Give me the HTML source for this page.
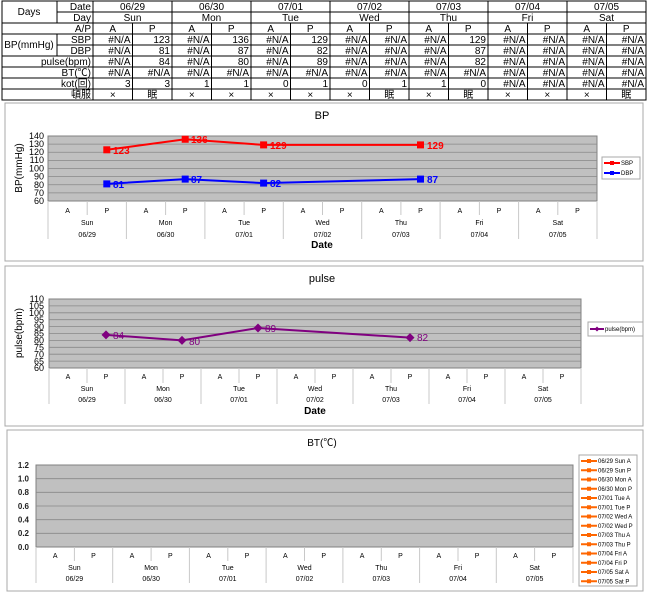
<!DOCTYPE html>
<html><head><meta charset="utf-8"><style>body{margin:0;background:#fff}svg{display:block}text{font-family:"Liberation Sans","Noto Sans CJK JP",sans-serif}</style></head><body>
<svg width="650" height="594" viewBox="0 0 650 594" xmlns="http://www.w3.org/2000/svg">
<!-- TABLE -->
<g stroke="#000" stroke-width="1" fill="none">
<rect x="2" y="1" width="644" height="99"/>
<line x1="57" y1="12" x2="646" y2="12"/>
<line x1="2" y1="23" x2="646" y2="23"/>
<line x1="2" y1="34" x2="646" y2="34"/>
<line x1="57" y1="45" x2="646" y2="45"/>
<line x1="2" y1="56" x2="646" y2="56"/>
<line x1="2" y1="67" x2="646" y2="67"/>
<line x1="2" y1="78" x2="646" y2="78"/>
<line x1="2" y1="89" x2="646" y2="89"/>
<line x1="57" y1="1" x2="57" y2="23"/>
<line x1="57" y1="34" x2="57" y2="56"/>
<line x1="93" y1="1" x2="93" y2="100"/>
<line x1="172" y1="1" x2="172" y2="100"/><line x1="251" y1="1" x2="251" y2="100"/><line x1="330" y1="1" x2="330" y2="100"/><line x1="409" y1="1" x2="409" y2="100"/><line x1="488" y1="1" x2="488" y2="100"/><line x1="567" y1="1" x2="567" y2="100"/>
<line x1="132.5" y1="23" x2="132.5" y2="100"/><line x1="211.5" y1="23" x2="211.5" y2="100"/><line x1="290.5" y1="23" x2="290.5" y2="100"/><line x1="369.5" y1="23" x2="369.5" y2="100"/><line x1="448.5" y1="23" x2="448.5" y2="100"/><line x1="527.5" y1="23" x2="527.5" y2="100"/><line x1="606.5" y1="23" x2="606.5" y2="100"/>
</g>
<g font-size="10" fill="#000">
<text x="29" y="15" text-anchor="middle">Days</text>
<text x="29" y="48" text-anchor="middle">BP(mmHg)</text>
<g text-anchor="end">
<text x="91" y="10">Date</text><text x="91" y="21">Day</text><text x="91" y="32">A/P</text><text x="91" y="43">SBP</text><text x="91" y="54">DBP</text><text x="91" y="65">pulse(bpm)</text><text x="91" y="76">BT(℃)</text><text x="91" y="87">kot(回)</text><text x="91" y="98">頓服</text>
</g>
<g text-anchor="middle">
<text x="132.5" y="10">06/29</text><text x="211.5" y="10">06/30</text><text x="290.5" y="10">07/01</text><text x="369.5" y="10">07/02</text><text x="448.5" y="10">07/03</text><text x="527.5" y="10">07/04</text><text x="606.5" y="10">07/05</text>
<text x="132.5" y="21">Sun</text><text x="211.5" y="21">Mon</text><text x="290.5" y="21">Tue</text><text x="369.5" y="21">Wed</text><text x="448.5" y="21">Thu</text><text x="527.5" y="21">Fri</text><text x="606.5" y="21">Sat</text>
<text x="112.75" y="32">A</text><text x="152.25" y="32">P</text><text x="191.75" y="32">A</text><text x="231.25" y="32">P</text><text x="270.75" y="32">A</text><text x="310.25" y="32">P</text><text x="349.75" y="32">A</text><text x="389.25" y="32">P</text><text x="428.75" y="32">A</text><text x="468.25" y="32">P</text><text x="507.75" y="32">A</text><text x="547.25" y="32">P</text><text x="586.75" y="32">A</text><text x="626.25" y="32">P</text>
<text x="112.75" y="98">×</text><text x="152.25" y="98">眠</text><text x="191.75" y="98">×</text><text x="231.25" y="98">×</text><text x="270.75" y="98">×</text><text x="310.25" y="98">×</text><text x="349.75" y="98">×</text><text x="389.25" y="98">眠</text><text x="428.75" y="98">×</text><text x="468.25" y="98">眠</text><text x="507.75" y="98">×</text><text x="547.25" y="98">×</text><text x="586.75" y="98">×</text><text x="626.25" y="98">眠</text>
</g>
<g text-anchor="end">
<text x="130.5" y="43">#N/A</text><text x="170" y="43">123</text><text x="209.5" y="43">#N/A</text><text x="249" y="43">136</text><text x="288.5" y="43">#N/A</text><text x="328" y="43">129</text><text x="367.5" y="43">#N/A</text><text x="407" y="43">#N/A</text><text x="446.5" y="43">#N/A</text><text x="486" y="43">129</text><text x="525.5" y="43">#N/A</text><text x="565" y="43">#N/A</text><text x="604.5" y="43">#N/A</text><text x="644" y="43">#N/A</text>
<text x="130.5" y="54">#N/A</text><text x="170" y="54">81</text><text x="209.5" y="54">#N/A</text><text x="249" y="54">87</text><text x="288.5" y="54">#N/A</text><text x="328" y="54">82</text><text x="367.5" y="54">#N/A</text><text x="407" y="54">#N/A</text><text x="446.5" y="54">#N/A</text><text x="486" y="54">87</text><text x="525.5" y="54">#N/A</text><text x="565" y="54">#N/A</text><text x="604.5" y="54">#N/A</text><text x="644" y="54">#N/A</text>
<text x="130.5" y="65">#N/A</text><text x="170" y="65">84</text><text x="209.5" y="65">#N/A</text><text x="249" y="65">80</text><text x="288.5" y="65">#N/A</text><text x="328" y="65">89</text><text x="367.5" y="65">#N/A</text><text x="407" y="65">#N/A</text><text x="446.5" y="65">#N/A</text><text x="486" y="65">82</text><text x="525.5" y="65">#N/A</text><text x="565" y="65">#N/A</text><text x="604.5" y="65">#N/A</text><text x="644" y="65">#N/A</text>
<text x="130.5" y="76">#N/A</text><text x="170" y="76">#N/A</text><text x="209.5" y="76">#N/A</text><text x="249" y="76">#N/A</text><text x="288.5" y="76">#N/A</text><text x="328" y="76">#N/A</text><text x="367.5" y="76">#N/A</text><text x="407" y="76">#N/A</text><text x="446.5" y="76">#N/A</text><text x="486" y="76">#N/A</text><text x="525.5" y="76">#N/A</text><text x="565" y="76">#N/A</text><text x="604.5" y="76">#N/A</text><text x="644" y="76">#N/A</text>
<text x="130.5" y="87">3</text><text x="170" y="87">3</text><text x="209.5" y="87">1</text><text x="249" y="87">1</text><text x="288.5" y="87">0</text><text x="328" y="87">1</text><text x="367.5" y="87">0</text><text x="407" y="87">1</text><text x="446.5" y="87">1</text><text x="486" y="87">0</text><text x="525.5" y="87">#N/A</text><text x="565" y="87">#N/A</text><text x="604.5" y="87">#N/A</text><text x="644" y="87">#N/A</text>
</g>
</g>

<!-- BP CHART -->
<rect x="5" y="103" width="638" height="158" fill="#fff" stroke="#a8a8a8"/>
<text x="322" y="119" font-size="11" text-anchor="middle">BP</text>
<rect x="48" y="136" width="549" height="65" fill="#c0c0c0" stroke="#808080"/>
<g stroke="#888" stroke-width="0.8">
<line x1="48" y1="144.1" x2="597" y2="144.1"/><line x1="48" y1="152.25" x2="597" y2="152.25"/><line x1="48" y1="160.4" x2="597" y2="160.4"/><line x1="48" y1="168.5" x2="597" y2="168.5"/><line x1="48" y1="176.6" x2="597" y2="176.6"/><line x1="48" y1="184.75" x2="597" y2="184.75"/><line x1="48" y1="192.9" x2="597" y2="192.9"/>
</g>
<g font-size="9" text-anchor="end">
<text x="44" y="139">140</text><text x="44" y="147">130</text><text x="44" y="155">120</text><text x="44" y="163">110</text><text x="44" y="171.5">100</text><text x="44" y="179.5">90</text><text x="44" y="188">80</text><text x="44" y="196">70</text><text x="44" y="204">60</text>
</g>
<text transform="translate(22,168) rotate(-90)" font-size="10" text-anchor="middle">BP(mmHg)</text>
<g stroke="#c8c8c8" stroke-width="1">
<line x1="87.2" y1="201" x2="87.2" y2="215"/><line x1="165.6" y1="201" x2="165.6" y2="215"/><line x1="244.1" y1="201" x2="244.1" y2="215"/><line x1="322.5" y1="201" x2="322.5" y2="215"/><line x1="400.9" y1="201" x2="400.9" y2="215"/><line x1="479.4" y1="201" x2="479.4" y2="215"/><line x1="557.8" y1="201" x2="557.8" y2="215"/>
<line x1="48" y1="201" x2="48" y2="239"/><line x1="126.4" y1="201" x2="126.4" y2="239"/><line x1="204.9" y1="201" x2="204.9" y2="239"/><line x1="283.3" y1="201" x2="283.3" y2="239"/><line x1="361.7" y1="201" x2="361.7" y2="239"/><line x1="440.1" y1="201" x2="440.1" y2="239"/><line x1="518.6" y1="201" x2="518.6" y2="239"/><line x1="597" y1="201" x2="597" y2="239"/>
</g>
<g font-size="7" text-anchor="middle">
<text x="67.6" y="213">A</text><text x="106.8" y="213">P</text><text x="146" y="213">A</text><text x="185.2" y="213">P</text><text x="224.5" y="213">A</text><text x="263.7" y="213">P</text><text x="302.9" y="213">A</text><text x="342.1" y="213">P</text><text x="381.3" y="213">A</text><text x="420.5" y="213">P</text><text x="459.8" y="213">A</text><text x="499" y="213">P</text><text x="538.2" y="213">A</text><text x="577.4" y="213">P</text>
<text x="87.2" y="225">Sun</text><text x="165.6" y="225">Mon</text><text x="244.1" y="225">Tue</text><text x="322.5" y="225">Wed</text><text x="400.9" y="225">Thu</text><text x="479.4" y="225">Fri</text><text x="557.8" y="225">Sat</text>
<text x="87.2" y="237">06/29</text><text x="165.6" y="237">06/30</text><text x="244.1" y="237">07/01</text><text x="322.5" y="237">07/02</text><text x="400.9" y="237">07/03</text><text x="479.4" y="237">07/04</text><text x="557.8" y="237">07/05</text>
</g>
<text x="322" y="248" font-size="10" font-weight="bold" text-anchor="middle">Date</text>
<polyline points="106.8,149.8 185.2,139.25 263.6,144.9 420.5,144.9" fill="none" stroke="#ff0000" stroke-width="2"/>
<polyline points="106.8,183.9 185.2,179.1 263.6,183.1 420.5,179.1" fill="none" stroke="#0000ff" stroke-width="2"/>
<g fill="#ff0000"><rect x="103.3" y="146.3" width="7" height="7"/><rect x="181.7" y="135.75" width="7" height="7"/><rect x="260.1" y="141.4" width="7" height="7"/><rect x="417" y="141.4" width="7" height="7"/></g>
<g fill="#0000ff"><rect x="103.3" y="180.4" width="7" height="7"/><rect x="181.7" y="175.6" width="7" height="7"/><rect x="260.1" y="179.6" width="7" height="7"/><rect x="417" y="175.6" width="7" height="7"/></g>
<g font-size="10" font-weight="bold" fill="#ff0000"><text x="113" y="154">123</text><text x="191" y="143">136</text><text x="270" y="149">129</text><text x="427" y="149">129</text></g>
<g font-size="10" font-weight="bold" fill="#0000ff"><text x="113" y="188">81</text><text x="191" y="183">87</text><text x="270" y="187">82</text><text x="427" y="183">87</text></g>
<rect x="602" y="157" width="38" height="22" fill="#fff" stroke="#a8a8a8"/>
<line x1="604" y1="163" x2="620" y2="163" stroke="#ff0000" stroke-width="2"/><rect x="610" y="161" width="4" height="4" fill="#ff0000"/>
<line x1="604" y1="173" x2="620" y2="173" stroke="#0000ff" stroke-width="2"/><rect x="610" y="171" width="4" height="4" fill="#0000ff"/>
<g font-size="6"><text x="621" y="165">SBP</text><text x="621" y="175">DBP</text></g>

<!-- PULSE CHART -->
<rect x="5" y="266" width="638" height="160" fill="#fff" stroke="#a8a8a8"/>
<text x="322" y="282" font-size="11" text-anchor="middle">pulse</text>
<rect x="49" y="299" width="532" height="69" fill="#c0c0c0" stroke="#808080"/>
<g stroke="#888" stroke-width="0.8">
<line x1="49" y1="305.9" x2="581" y2="305.9"/><line x1="49" y1="312.8" x2="581" y2="312.8"/><line x1="49" y1="319.7" x2="581" y2="319.7"/><line x1="49" y1="326.6" x2="581" y2="326.6"/><line x1="49" y1="333.5" x2="581" y2="333.5"/><line x1="49" y1="340.4" x2="581" y2="340.4"/><line x1="49" y1="347.3" x2="581" y2="347.3"/><line x1="49" y1="354.2" x2="581" y2="354.2"/><line x1="49" y1="361.1" x2="581" y2="361.1"/>
</g>
<g font-size="9" text-anchor="end">
<text x="44" y="302">110</text><text x="44" y="309">105</text><text x="44" y="316">100</text><text x="44" y="323">95</text><text x="44" y="330">90</text><text x="44" y="336.5">85</text><text x="44" y="343.5">80</text><text x="44" y="350.5">75</text><text x="44" y="357.5">70</text><text x="44" y="364.5">65</text><text x="44" y="371">60</text>
</g>
<text transform="translate(22,333) rotate(-90)" font-size="10" text-anchor="middle">pulse(bpm)</text>
<g stroke="#c8c8c8" stroke-width="1">
<line x1="87" y1="368" x2="87" y2="383"/><line x1="163" y1="368" x2="163" y2="383"/><line x1="239" y1="368" x2="239" y2="383"/><line x1="315" y1="368" x2="315" y2="383"/><line x1="391" y1="368" x2="391" y2="383"/><line x1="467" y1="368" x2="467" y2="383"/><line x1="543" y1="368" x2="543" y2="383"/>
<line x1="49" y1="368" x2="49" y2="404"/><line x1="125" y1="368" x2="125" y2="404"/><line x1="201" y1="368" x2="201" y2="404"/><line x1="277" y1="368" x2="277" y2="404"/><line x1="353" y1="368" x2="353" y2="404"/><line x1="429" y1="368" x2="429" y2="404"/><line x1="505" y1="368" x2="505" y2="404"/><line x1="581" y1="368" x2="581" y2="404"/>
</g>
<g font-size="7" text-anchor="middle">
<text x="68" y="379">A</text><text x="106" y="379">P</text><text x="144" y="379">A</text><text x="182" y="379">P</text><text x="220" y="379">A</text><text x="258" y="379">P</text><text x="296" y="379">A</text><text x="334" y="379">P</text><text x="372" y="379">A</text><text x="410" y="379">P</text><text x="448" y="379">A</text><text x="486" y="379">P</text><text x="524" y="379">A</text><text x="562" y="379">P</text>
<text x="87" y="391">Sun</text><text x="163" y="391">Mon</text><text x="239" y="391">Tue</text><text x="315" y="391">Wed</text><text x="391" y="391">Thu</text><text x="467" y="391">Fri</text><text x="543" y="391">Sat</text>
<text x="87" y="402">06/29</text><text x="163" y="402">06/30</text><text x="239" y="402">07/01</text><text x="315" y="402">07/02</text><text x="391" y="402">07/03</text><text x="467" y="402">07/04</text><text x="543" y="402">07/05</text>
</g>
<text x="315" y="414" font-size="10" font-weight="bold" text-anchor="middle">Date</text>
<polyline points="106,334.9 182,340.4 258,328 410,337.6" fill="none" stroke="#800080" stroke-width="2"/>
<g fill="#800080">
<polygon points="106,330.4 110.5,334.9 106,339.4 101.5,334.9"/><polygon points="182,335.9 186.5,340.4 182,344.9 177.5,340.4"/><polygon points="258,323.5 262.5,328 258,332.5 253.5,328"/><polygon points="410,333.1 414.5,337.6 410,342.1 405.5,337.6"/>
</g>
<g font-size="10" fill="#800080"><text x="113" y="339">84</text><text x="189" y="345">80</text><text x="265" y="332">89</text><text x="417" y="341">82</text></g>
<rect x="588" y="322" width="55" height="14" fill="#fff" stroke="#a8a8a8"/>
<line x1="590" y1="329" x2="604" y2="329" stroke="#800080" stroke-width="2"/><polygon points="597,326.5 599.5,329 597,331.5 594.5,329" fill="#800080"/>
<text x="605" y="331" font-size="6">pulse(bpm)</text>

<!-- BT CHART -->
<rect x="7" y="430" width="636" height="161" fill="#fff" stroke="#a8a8a8"/>
<text x="322" y="446" font-size="10" text-anchor="middle">BT(℃)</text>
<rect x="36" y="465" width="537" height="82" fill="#c0c0c0" stroke="#808080"/>
<g stroke="#888" stroke-width="0.8">
<line x1="36" y1="478.7" x2="573" y2="478.7"/><line x1="36" y1="492.3" x2="573" y2="492.3"/><line x1="36" y1="506" x2="573" y2="506"/><line x1="36" y1="519.7" x2="573" y2="519.7"/><line x1="36" y1="533.3" x2="573" y2="533.3"/>
</g>
<g font-size="8" font-weight="bold" text-anchor="end" fill="#222">
<text x="29" y="468">1.2</text><text x="29" y="481.5">1.0</text><text x="29" y="495">0.8</text><text x="29" y="509">0.6</text><text x="29" y="522.5">0.4</text><text x="29" y="536">0.2</text><text x="29" y="550">0.0</text>
</g>
<g stroke="#c8c8c8" stroke-width="1">
<line x1="74.4" y1="547" x2="74.4" y2="561"/><line x1="151.1" y1="547" x2="151.1" y2="561"/><line x1="227.8" y1="547" x2="227.8" y2="561"/><line x1="304.5" y1="547" x2="304.5" y2="561"/><line x1="381.3" y1="547" x2="381.3" y2="561"/><line x1="458" y1="547" x2="458" y2="561"/><line x1="534.6" y1="547" x2="534.6" y2="561"/>
<line x1="36" y1="547" x2="36" y2="583"/><line x1="112.7" y1="547" x2="112.7" y2="583"/><line x1="189.4" y1="547" x2="189.4" y2="583"/><line x1="266.1" y1="547" x2="266.1" y2="583"/><line x1="342.9" y1="547" x2="342.9" y2="583"/><line x1="419.6" y1="547" x2="419.6" y2="583"/><line x1="496.3" y1="547" x2="496.3" y2="583"/><line x1="573" y1="547" x2="573" y2="583"/>
</g>
<g font-size="7" text-anchor="middle">
<text x="55.2" y="558">A</text><text x="93.5" y="558">P</text><text x="131.9" y="558">A</text><text x="170.3" y="558">P</text><text x="208.6" y="558">A</text><text x="247" y="558">P</text><text x="285.3" y="558">A</text><text x="323.7" y="558">P</text><text x="362.1" y="558">A</text><text x="400.4" y="558">P</text><text x="438.8" y="558">A</text><text x="477.1" y="558">P</text><text x="515.5" y="558">A</text><text x="553.8" y="558">P</text>
<text x="74.4" y="570">Sun</text><text x="151.1" y="570">Mon</text><text x="227.8" y="570">Tue</text><text x="304.5" y="570">Wed</text><text x="381.3" y="570">Thu</text><text x="458" y="570">Fri</text><text x="534.6" y="570">Sat</text>
<text x="74.4" y="581">06/29</text><text x="151.1" y="581">06/30</text><text x="227.8" y="581">07/01</text><text x="304.5" y="581">07/02</text><text x="381.3" y="581">07/03</text><text x="458" y="581">07/04</text><text x="534.6" y="581">07/05</text>
</g>
<rect x="579" y="455" width="58" height="131" fill="#fff" stroke="#a8a8a8"/>
<g stroke="#ff6600" stroke-width="2">
<line x1="581" y1="461" x2="597" y2="461"/><line x1="581" y1="470.25" x2="597" y2="470.25"/><line x1="581" y1="479.5" x2="597" y2="479.5"/><line x1="581" y1="488.75" x2="597" y2="488.75"/><line x1="581" y1="498" x2="597" y2="498"/><line x1="581" y1="507.25" x2="597" y2="507.25"/><line x1="581" y1="516.5" x2="597" y2="516.5"/><line x1="581" y1="525.75" x2="597" y2="525.75"/><line x1="581" y1="535" x2="597" y2="535"/><line x1="581" y1="544.25" x2="597" y2="544.25"/><line x1="581" y1="553.5" x2="597" y2="553.5"/><line x1="581" y1="562.75" x2="597" y2="562.75"/><line x1="581" y1="572" x2="597" y2="572"/><line x1="581" y1="581.25" x2="597" y2="581.25"/>
</g>
<g fill="#ff6600">
<rect x="587" y="459" width="4" height="4"/><rect x="587" y="468.25" width="4" height="4"/><rect x="587" y="477.5" width="4" height="4"/><rect x="587" y="486.75" width="4" height="4"/><rect x="587" y="496" width="4" height="4"/><rect x="587" y="505.25" width="4" height="4"/><rect x="587" y="514.5" width="4" height="4"/><rect x="587" y="523.75" width="4" height="4"/><rect x="587" y="533" width="4" height="4"/><rect x="587" y="542.25" width="4" height="4"/><rect x="587" y="551.5" width="4" height="4"/><rect x="587" y="560.75" width="4" height="4"/><rect x="587" y="570" width="4" height="4"/><rect x="587" y="579.25" width="4" height="4"/>
</g>
<g font-size="6">
<text x="598" y="463">06/29 Sun A</text><text x="598" y="472.25">06/29 Sun P</text><text x="598" y="481.5">06/30 Mon A</text><text x="598" y="490.75">06/30 Mon P</text><text x="598" y="500">07/01 Tue A</text><text x="598" y="509.25">07/01 Tue P</text><text x="598" y="518.5">07/02 Wed A</text><text x="598" y="527.75">07/02 Wed P</text><text x="598" y="537">07/03 Thu A</text><text x="598" y="546.25">07/03 Thu P</text><text x="598" y="555.5">07/04 Fri A</text><text x="598" y="564.75">07/04 Fri P</text><text x="598" y="574">07/05 Sat A</text><text x="598" y="583.25">07/05 Sat P</text>
</g>
</svg>
</body></html>
